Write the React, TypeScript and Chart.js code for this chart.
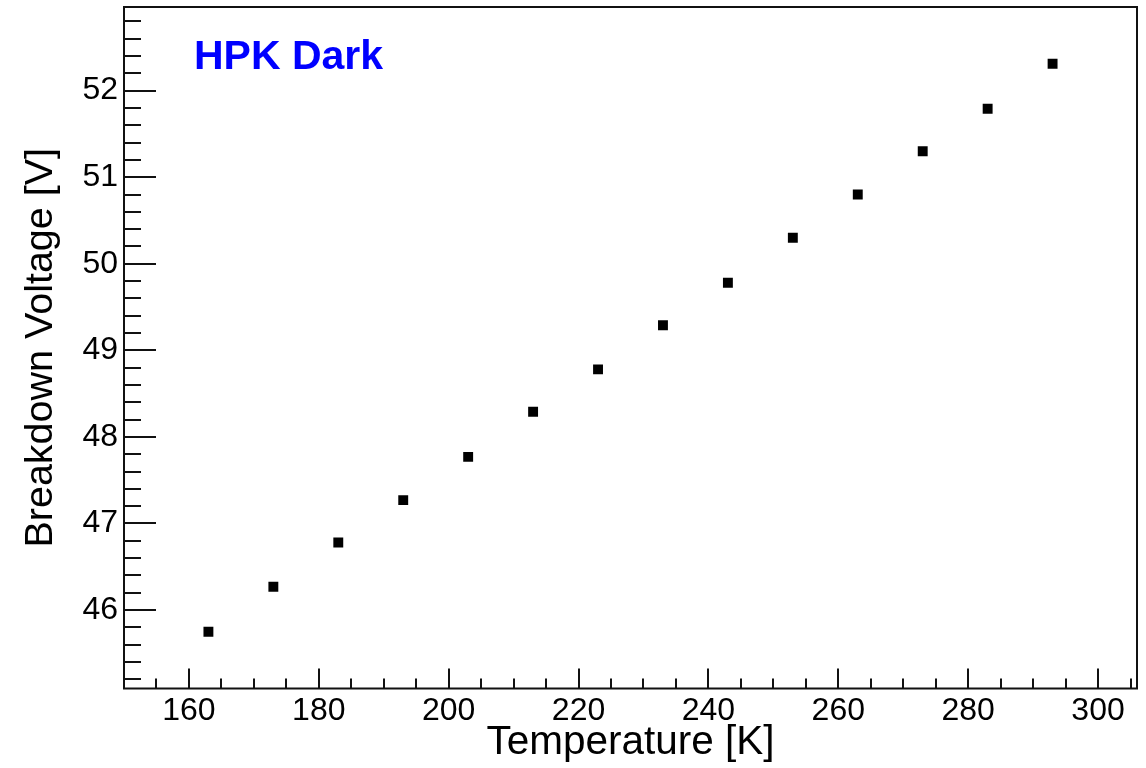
import React, { useEffect, useRef } from 'react';
import { Chart, registerables } from 'chart.js';

Chart.register(...registerables);

// ---- data ----
const temperatures = [163, 173, 183, 193, 203, 213, 223, 233, 243, 253, 263, 273, 283, 293];
const breakdownVoltages = [45.75, 46.27, 46.78, 47.27, 47.77, 48.29, 48.78, 49.29, 49.78, 50.3, 50.8, 51.3, 51.79, 52.31];
const xTickValues = [160, 180, 200, 220, 240, 260, 280, 300];
const yTickValues = [46, 47, 48, 49, 50, 51, 52];
const xMinorStep = 5;
const yMinorStep = 0.2;
const xRange = [150, 306];
const yRange = [45.094, 52.966];
const xTitle = 'Temperature [K]';
const yTitle = 'Breakdown Voltage [V]';
const labelText = 'HPK Dark';

const FONT = '"Liberation Sans", Arial, Helvetica, sans-serif';

const rootAxes = {
  id: 'rootAxes',
  afterDraw(chart: any) {
    const { ctx, chartArea: a, scales } = chart;
    const x = scales.x;
    const y = scales.y;
    ctx.save();
    ctx.strokeStyle = '#111';
    ctx.lineWidth = 2;
    ctx.lineCap = 'butt';
    // x ticks (inward from bottom)
    const xk0 = Math.ceil(x.min / xMinorStep - 1e-9);
    const xk1 = Math.floor(x.max / xMinorStep + 1e-9);
    for (let k = xk0; k <= xk1; k++) {
      const v = k * xMinorStep;
      const major = xTickValues.some((t) => Math.abs(t - v) < 1e-6);
      const px = Math.round(x.getPixelForValue(v));
      const len = major ? 20 : 10;
      ctx.beginPath();
      ctx.moveTo(px, a.bottom);
      ctx.lineTo(px, a.bottom - len);
      ctx.stroke();
    }
    // y ticks (inward from left)
    const yk0 = Math.ceil(y.min / yMinorStep - 1e-9);
    const yk1 = Math.floor(y.max / yMinorStep + 1e-9);
    for (let k = yk0; k <= yk1; k++) {
      const v = k * yMinorStep;
      const major = yTickValues.some((t) => Math.abs(t - v) < 1e-6);
      const py = Math.round(y.getPixelForValue(v));
      const len = major ? 32 : 17;
      ctx.beginPath();
      ctx.moveTo(a.left, py);
      ctx.lineTo(a.left + len, py);
      ctx.stroke();
    }
    // frame
    ctx.strokeRect(a.left, a.top, a.right - a.left, a.bottom - a.top);
    // label
    ctx.fillStyle = '#0000ff';
    ctx.font = `bold 41px ${FONT}`;
    ctx.textAlign = 'left';
    ctx.textBaseline = 'alphabetic';
    ctx.fillText(labelText, 194, 69);
    ctx.restore();
  },
};

export default function App() {
  const canvasRef = useRef<HTMLCanvasElement | null>(null);

  useEffect(() => {
    if (!canvasRef.current) return;
    const chart = new Chart(canvasRef.current, {
      type: 'scatter',
      data: {
        datasets: [
          {
            label: 'HPK Dark',
            data: temperatures.map((t, i) => ({ x: t, y: breakdownVoltages[i] })),
            pointStyle: 'rect',
            pointRadius: 7,
            pointHoverRadius: 7,
            backgroundColor: '#000',
            borderColor: '#000',
            borderWidth: 0,
            showLine: false,
          },
        ],
      },
      options: {
        animation: false,
        responsive: false,
        events: [],
        layout: { padding: { top: 4.5, right: 9, left: 0, bottom: 0 } },
        plugins: {
          legend: { display: false },
          tooltip: { enabled: false },
          title: { display: false },
        },
        scales: {
          x: {
            type: 'linear',
            min: xRange[0],
            max: xRange[1],
            grid: { display: false, drawTicks: false },
            border: { display: false },
            afterBuildTicks: (scale: any) => {
              scale.ticks = xTickValues.map((v) => ({ value: v }));
            },
            afterFit: (scale: any) => {
              scale.height = 79.5;
              scale.paddingLeft = 0;
              scale.paddingRight = 0;
            },
            ticks: {
              autoSkip: false,
              maxRotation: 0,
              padding: 3,
              color: '#000',
              font: { family: FONT, size: 32 },
              callback: (v: any) => String(v),
            },
            title: {
              display: true,
              text: xTitle,
              color: '#000',
              font: { family: FONT, size: 40.5 },
              padding: { top: 0, bottom: 1 },
            },
          },
          y: {
            type: 'linear',
            min: yRange[0],
            max: yRange[1],
            grid: { display: false, drawTicks: false },
            border: { display: false },
            afterBuildTicks: (scale: any) => {
              scale.ticks = yTickValues.map((v) => ({ value: v }));
            },
            afterFit: (scale: any) => {
              scale.width = 124;
              scale.paddingTop = 0;
              scale.paddingBottom = 0;
            },
            ticks: {
              autoSkip: false,
              padding: 6,
              color: '#000',
              font: { family: FONT, size: 32 },
              callback: (v: any) => String(v),
            },
            title: {
              display: true,
              text: yTitle,
              color: '#000',
              font: { family: FONT, size: 39.5 },
              padding: { top: 17.5, bottom: 0 },
            },
          },
        },
      },
      plugins: [rootAxes],
    });
    return () => chart.destroy();
  }, []);

  return (
    <div style={{ position: 'fixed', left: 0, top: 0, width: 1146, height: 768, background: '#fff' }}>
      <canvas ref={canvasRef} width={1146} height={768} style={{ display: 'block', width: 1146, height: 768 }} />
    </div>
  );
}
